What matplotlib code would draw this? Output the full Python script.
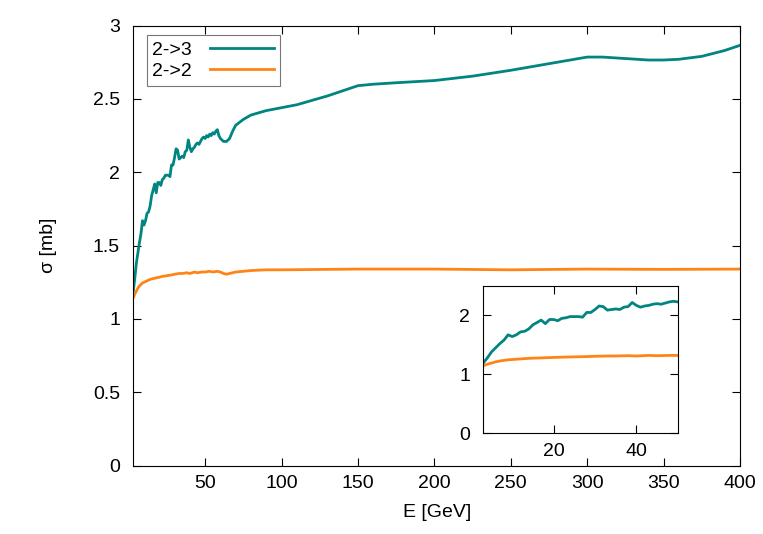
import numpy as np
import matplotlib
matplotlib.use('Agg')
from matplotlib import pyplot as plt

plt.rcParams['font.family'] = ['Liberation Sans', 'DejaVu Sans']

# sigma(2->3) vs E
e23 = [3, 4, 5, 6, 7, 8, 9, 10, 11, 12, 13, 14, 15, 16, 17, 18, 19, 20,
       21, 22, 23, 24, 25, 26, 27, 28, 29, 30, 31, 32, 33, 34, 35, 36, 37,
       38, 39, 40, 41, 42, 43, 44, 45, 46, 47, 48, 49, 50, 51, 52, 53, 54,
       55, 56, 57, 58, 59, 60, 62, 64, 66, 68, 70, 75, 80, 90, 100, 110,
       120, 130, 140, 150, 160, 175, 200, 225, 250, 275, 300, 310, 325,
       340, 350, 360, 375, 390, 400]
s23 = [1.19, 1.28, 1.38, 1.45, 1.52, 1.58, 1.67, 1.64, 1.67, 1.72, 1.73,
       1.77, 1.84, 1.88, 1.92, 1.86, 1.93, 1.93, 1.91, 1.95, 1.96, 1.98,
       1.98, 1.98, 1.97, 2.05, 2.05, 2.10, 2.16, 2.15, 2.09, 2.10, 2.11,
       2.10, 2.14, 2.15, 2.22, 2.17, 2.14, 2.16, 2.17, 2.19, 2.20, 2.19,
       2.21, 2.23, 2.24, 2.23, 2.25, 2.24, 2.26, 2.25, 2.27, 2.26, 2.28,
       2.29, 2.25, 2.23, 2.21, 2.21, 2.23, 2.28, 2.32, 2.36, 2.39, 2.42,
       2.44, 2.46, 2.49, 2.52, 2.555, 2.59, 2.60, 2.61, 2.625, 2.655,
       2.695, 2.74, 2.785, 2.785, 2.775, 2.765, 2.765, 2.77, 2.79, 2.83,
       2.865]

# sigma(2->2) vs E
e22 = [3, 4, 5, 6, 7, 8, 9, 10, 12, 14, 16, 18, 20, 22, 25, 28, 30, 33,
       35, 38, 40, 43, 45, 48, 50, 53, 55, 58, 60, 62, 64, 66, 70, 75, 80,
       90, 100, 150, 200, 250, 300, 350, 400]
s22 = [1.145, 1.17, 1.19, 1.21, 1.225, 1.235, 1.245, 1.25, 1.26, 1.27,
       1.275, 1.28, 1.285, 1.29, 1.295, 1.30, 1.305, 1.31, 1.31, 1.315,
       1.31, 1.32, 1.315, 1.32, 1.32, 1.325, 1.32, 1.325, 1.32, 1.31, 1.305,
       1.31, 1.32, 1.325, 1.33, 1.335, 1.335, 1.34, 1.34, 1.335, 1.34,
       1.338, 1.34]

c23 = '#008580'
c22 = '#ff8418'
fs = 14

fig = plt.figure(figsize=(7.63, 5.34), dpi=100)

# main plot
ax = fig.add_axes([0.1747, 0.1279, 0.7952, 0.8243])
ax.plot(e23, s23, color=c23, lw=2, label='2->3')
ax.plot(e22, s22, color=c22, lw=2, label='2->2')
ax.set_xlim(3, 400)
ax.set_ylim(0, 3)
ax.set_xticks(np.arange(50, 401, 50))
ax.set_yticks(np.arange(0, 3.01, 0.5))
ax.set_yticklabels(['0', '0.5', '1', '1.5', '2', '2.5', '3'])
ax.tick_params(direction='in', top=True, right=True, length=6, width=0.8,
               labelsize=fs)
ax.tick_params(axis='x', pad=7)
ax.tick_params(axis='y', pad=9.5)
ax.set_xlabel('E [GeV]', fontsize=fs, labelpad=8)
ax.set_ylabel('σ [mb]', fontsize=fs, labelpad=26)
leg = ax.legend(loc='upper left', bbox_to_anchor=(0.022, 0.978),
                markerfirst=False, fancybox=False, fontsize=fs,
                handlelength=3.3, handletextpad=0.9, borderpad=0.3,
                labelspacing=0.18, borderaxespad=0)
leg.get_frame().set_edgecolor('#555555')
leg.get_frame().set_linewidth(0.8)

# inset
ins = fig.add_axes([0.6334, 0.1891, 0.2548, 0.2753])
ins.plot(e23, s23, color=c23, lw=2)
ins.plot(e22, s22, color=c22, lw=2)
ins.set_xlim(3, 50)
ins.set_ylim(0, 2.5)
ins.set_xticks([20, 40])
ins.set_yticks([0, 1, 2])
ins.tick_params(direction='in', top=True, right=True, length=6, width=0.8,
                labelsize=fs)
ins.tick_params(axis='x', pad=7)
ins.tick_params(axis='y', pad=9.5)

fig.savefig('out.png', dpi=100)
